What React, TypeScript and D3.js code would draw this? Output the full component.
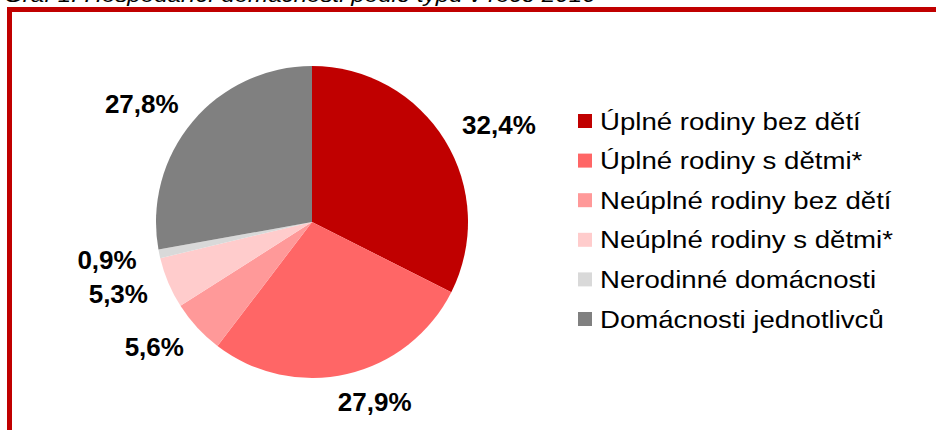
import React from 'react';
import * as d3 from 'd3';

// categories + values (percent)
const categories = [
  'Úplné rodiny bez dětí',
  'Úplné rodiny s dětmi*',
  'Neúplné rodiny bez dětí',
  'Neúplné rodiny s dětmi*',
  'Nerodinné domácnosti',
  'Domácnosti jednotlivců',
];
const values = [32.4, 27.9, 5.6, 5.3, 0.9, 27.8];
const labels = ['32,4%', '27,9%', '5,6%', '5,3%', '0,9%', '27,8%'];
const colors = ['#C00000', '#FF6666', '#FF9999', '#FFCCCC', '#D9D9D9', '#808080'];
const title = 'Graf 1: Hospodařící domácnosti podle typu v roce 2016';

const W = 936;
const H = 430;

export default function App() {
  const cx = 312;
  const cy = 222;
  const r = 156;

  const pieLayout = d3.pie<number>().sort(null).value((d) => d);
  const arcs = pieLayout(values);
  const arcGen = d3.arc<d3.PieArcDatum<number>>().innerRadius(0).outerRadius(r);

  // outside-end labels, roughly the way excel places them
  const labelRx = r + 24;
  const labelRy = r + 16;
  const labelFont = 26;
  const labelPos = arcs.map((a, i) => {
    const mid = (a.startAngle + a.endAngle) / 2;
    const s = Math.sin(mid);
    const c = Math.cos(mid);
    const halfW = labels[i].length * labelFont * 0.28;
    const halfH = labelFont * 0.48;
    return {
      x: labelRx * s + halfW * (0.5 * Math.sign(s) + 0.5 * s),
      y: -labelRy * c - halfH * c,
    };
  });

  const legendX = 578;
  const legendY = d3
    .scalePoint<number>()
    .domain(d3.range(categories.length))
    .range([121, 319]);

  return (
    <svg
      width={W}
      height={H}
      style={{ position: 'absolute', left: 0, top: 0, background: '#fff' }}
    >
      <text
        transform="translate(4,2) scale(1.15,1)"
        fontFamily="'Liberation Sans', Arial, sans-serif"
        fontStyle="italic"
        fontSize={21}
        fill="#000"
      >
        {title}
      </text>
      <rect x={9.5} y={9.5} width={1000} height={1000} fill="none" stroke="#C00000" strokeWidth={5} />

      <g transform={`translate(${cx},${cy})`}>
        {arcs.map((a, i) => (
          <path key={i} d={arcGen(a) || ''} fill={colors[i]} />
        ))}
        {arcs.map((a, i) => (
          <text
            key={'l' + i}
            x={labelPos[i].x}
            y={labelPos[i].y}
            textAnchor="middle"
            dominantBaseline="central"
            fontFamily="'Liberation Sans', Arial, sans-serif"
            fontWeight="bold"
            fontSize={labelFont}
            fill="#000"
          >
            {labels[i]}
          </text>
        ))}
      </g>

      <g>
        {categories.map((c, i) => {
          const y = legendY(i) as number;
          return (
            <g key={c}>
              <rect x={legendX} y={y - 7} width={14} height={14} fill={colors[i]} />
              <text
                transform={`translate(${legendX + 22},${y + 8.5}) scale(1.15,1)`}
                fontFamily="'Liberation Sans', Arial, sans-serif"
                fontSize={24}
                fill="#000"
              >
                {c}
              </text>
            </g>
          );
        })}
      </g>
    </svg>
  );
}
